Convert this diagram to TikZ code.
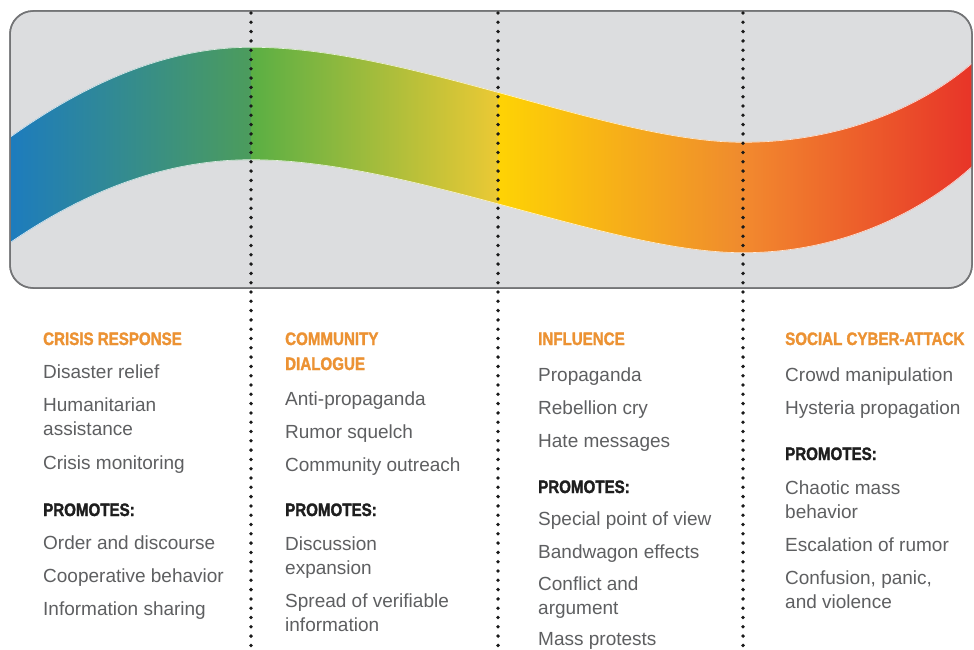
\documentclass[tikz,border=0pt]{standalone}
\usepackage{fontspec}
\setmainfont{Liberation Sans}
\newfontfamily\headfont[FakeStretch=0.84,FakeBold=1.6]{Liberation Sans Bold}
\definecolor{panelgrey}{HTML}{DCDDDF}
\definecolor{panelborder}{HTML}{737476}
\definecolor{bodygrey}{HTML}{5E5F61}
\definecolor{headorange}{HTML}{EC9233}
\definecolor{promblack}{HTML}{1E1E1E}
\definecolor{dotcol}{HTML}{1A1A1A}
\definecolor{ca}{HTML}{1C7BC0}
\definecolor{cb}{HTML}{2A8894}
\definecolor{cc}{HTML}{4C9C5C}
\definecolor{cd}{HTML}{5AAF44}
\definecolor{ce}{HTML}{AABF5E}
\definecolor{cf}{HTML}{EBC934}
\definecolor{cg}{HTML}{FED304}
\definecolor{ch}{HTML}{F7B057}
\definecolor{ci}{HTML}{EF8A2E}
\definecolor{cj}{HTML}{F28A2E}
\definecolor{ck}{HTML}{EE7A48}
\definecolor{cl}{HTML}{E73128}
\tikzset{
  body/.style={font=\fontsize{19}{24}\selectfont, text=bodygrey, anchor=base west, inner sep=0pt},
  head/.style={font=\headfont\fontsize{18}{24}\selectfont, text=headorange, anchor=base west, inner sep=0pt},
  prom/.style={head, text=promblack},
  dotline/.style={draw=dotcol, line width=3.8pt, line cap=round, dash pattern=on 0pt off 9.3pt},
  paneledge/.style={draw=panelborder, line width=1.5pt, rounded corners=23pt},
  bandedge/.style={draw=white, opacity=0.85, line width=1.2pt}
}
\begin{document}
\begin{tikzpicture}[x=1pt,y=-1pt]
\useasboundingbox (0,0) rectangle (974,650);
\fill[white] (0,0) rectangle (974,650);
% panel
\path[fill=panelgrey, paneledge] (10,11) rectangle (972,288);
\begin{scope}
  \clip[rounded corners=23pt] (10,11) rectangle (972,288);
  \clip (4,137) -- (10,137) .. controls (90,80) and (170,47) .. (251,47)
        .. controls (410,47) and (610,142) .. (743,142)
        .. controls (850,142) and (930,100) .. (972,63) -- (980,63)
        -- (980,167) -- (972,167)
        .. controls (930,205) and (850,253) .. (743,253)
        .. controls (610,253) and (410,160) .. (251,160)
        .. controls (170,160) and (90,188) .. (10,243) -- (4,243) -- cycle;
  \shade[left color=ca, middle color=cb, right color=cc] (4,0) rectangle (251,300);
  \shade[left color=cd, middle color=ce, right color=cf] (251,0) rectangle (498,300);
  \shade[left color=cg, middle color=ch, right color=ci] (498,0) rectangle (743,300);
  \shade[left color=cj, middle color=ck, right color=cl] (743,0) rectangle (980,300);
  \draw[bandedge] (10,137) .. controls (90,80) and (170,47) .. (251,47)
        .. controls (410,47) and (610,142) .. (743,142)
        .. controls (850,142) and (930,100) .. (972,63);
  \draw[bandedge] (972,167)
        .. controls (930,205) and (850,253) .. (743,253)
        .. controls (610,253) and (410,160) .. (251,160)
        .. controls (170,160) and (90,188) .. (10,243);
\end{scope}
\path[paneledge] (10,11) rectangle (972,288);
% dotted separators
\coordinate (s1t) at (251,13); \coordinate (s1b) at (251,652);
\coordinate (s2t) at (498,13); \coordinate (s2b) at (498,652);
\coordinate (s3t) at (743,13); \coordinate (s3b) at (743,652);
\draw[dotline] (s1t) -- (s1b);
\draw[dotline] (s2t) -- (s2b);
\draw[dotline] (s3t) -- (s3b);
% column 1
\node[head] (h1) at (43,345) {CRISIS RESPONSE};
\node[body] (a1) at (43,378) {Disaster relief};
\node[body] (a2) at (43,411) {Humanitarian};
\node[body] (a3) at (43,435) {assistance};
\node[body] (a4) at (43,469) {Crisis monitoring};
\node[prom] (p1) at (43,516) {PROMOTES:};
\node[body] (a5) at (43,549) {Order and discourse};
\node[body] (a6) at (43,582) {Cooperative behavior};
\node[body] (a7) at (43,615) {Information sharing};
% column 2
\node[head] (h2a) at (285,345) {COMMUNITY};
\node[head] (h2b) at (285,370) {DIALOGUE};
\node[body] (b1) at (285,405) {Anti-propaganda};
\node[body] (b2) at (285,438) {Rumor squelch};
\node[body] (b3) at (285,471) {Community outreach};
\node[prom] (p2) at (285,516) {PROMOTES:};
\node[body] (b4) at (285,550) {Discussion};
\node[body] (b5) at (285,574) {expansion};
\node[body] (b6) at (285,607) {Spread of verifiable};
\node[body] (b7) at (285,631) {information};
% column 3
\node[head] (h3) at (538,345) {INFLUENCE};
\node[body] (c1) at (538,381) {Propaganda};
\node[body] (c2) at (538,414) {Rebellion cry};
\node[body] (c3) at (538,447) {Hate messages};
\node[prom] (p3) at (538,493) {PROMOTES:};
\node[body] (c4) at (538,525) {Special point of view};
\node[body] (c5) at (538,558) {Bandwagon effects};
\node[body] (c6) at (538,590) {Conflict and};
\node[body] (c7) at (538,614) {argument};
\node[body] (c8) at (538,645) {Mass protests};
% column 4
\node[head] (h4) at (785,345) {SOCIAL CYBER-ATTACK};
\node[body] (d1) at (785,381) {Crowd manipulation};
\node[body] (d2) at (785,414) {Hysteria propagation};
\node[prom] (p4) at (785,460) {PROMOTES:};
\node[body] (d3) at (785,494) {Chaotic mass};
\node[body] (d4) at (785,518) {behavior};
\node[body] (d5) at (785,551) {Escalation of rumor};
\node[body] (d6) at (785,584) {Confusion, panic,};
\node[body] (d7) at (785,608) {and violence};
\end{tikzpicture}
\end{document}
